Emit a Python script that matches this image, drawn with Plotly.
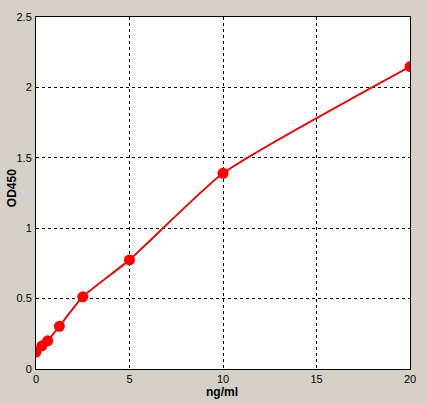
import plotly.graph_objects as go

conc = [0, 0.3125, 0.625, 1.25, 2.5, 5, 10, 20]
od = [0.12, 0.165, 0.2, 0.303, 0.513, 0.775, 1.39, 2.148]
x_ticks = [0, 5, 10, 15, 20]
y_ticks = [0, 0.5, 1, 1.5, 2, 2.5]
y_tick_text = ["0", "0.5", "1", "1.5", "2", "2.5"]

fig = go.Figure()
fig.add_trace(go.Scatter(
    x=conc, y=od, mode="lines",
    line=dict(color="#dd1111", width=2, shape="spline", smoothing=0.5),
    hoverinfo="skip", showlegend=False,
))
fig.add_trace(go.Scatter(
    x=conc, y=od, mode="markers",
    marker=dict(color="#ff0000", size=11, line=dict(width=0)),
    showlegend=False,
))

axis_common = dict(
    showline=True, linecolor="black", linewidth=1, mirror=True,
    showgrid=True, gridcolor="black", gridwidth=1, griddash="3px,3px",
    zeroline=False, ticks="", color="black", automargin=False,
    tickfont=dict(family="Liberation Sans, Arial", size=11, color="black"),
)

title_font = dict(family="Liberation Sans, Arial", size=12, color="black")

fig.update_layout(
    width=427, height=403,
    margin=dict(l=36, r=17, t=17, b=34),
    paper_bgcolor="#d4d0c8",
    plot_bgcolor="white",
    xaxis=dict(range=[0, 20], tickvals=x_ticks, ticklabelstandoff=0, **axis_common),
    yaxis=dict(range=[0, 2.5], tickvals=y_ticks, ticktext=y_tick_text,
               ticklabelstandoff=1, **axis_common),
    annotations=[
        dict(text="<b>ng/ml</b>", xref="paper", yref="paper", x=0.497, y=-0.065,
             showarrow=False, xanchor="center", yanchor="middle", font=title_font),
        dict(text="<b>OD450</b>", xref="paper", yref="paper", x=-0.064, y=0.514,
             showarrow=False, xanchor="center", yanchor="middle", textangle=-90,
             font=title_font),
    ],
)

fig.write_html("out.html", config={"displayModeBar": False},
               post_script="document.body.style.margin='0';")
